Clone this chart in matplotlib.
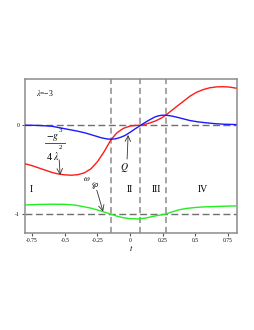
import matplotlib
matplotlib.use("Agg")
import matplotlib.pyplot as plt

plt.rcParams["font.family"] = ["Liberation Serif", "DejaVu Serif"]
plt.rcParams["mathtext.fontset"] = "stix"

# ── data ────────────────────────────────────────────────────────────────────
t_red = [-0.80, -0.75, -0.70, -0.65, -0.60, -0.55, -0.50, -0.45, -0.40, -0.35,
         -0.30, -0.25, -0.20, -0.145, -0.10, -0.05, 0.0, 0.04, 0.082, 0.12,
         0.153, 0.19, 0.217, 0.245, 0.273, 0.31, 0.357, 0.41, 0.459, 0.51,
         0.561, 0.61, 0.663, 0.71, 0.76, 0.81]
red = [-0.435, -0.455, -0.48, -0.505, -0.53, -0.548, -0.558, -0.562, -0.556,
       -0.535, -0.49, -0.41, -0.30, -0.16, -0.085, -0.035, -0.01, -0.003, 0.0,
       0.012, 0.026, 0.045, 0.063, 0.085, 0.112, 0.155, 0.21, 0.27, 0.326,
       0.37, 0.40, 0.42, 0.43, 0.432, 0.428, 0.416]

t_blue = [-0.80, -0.70, -0.60, -0.50, -0.40, -0.344, -0.28, -0.217, -0.17,
          -0.145, -0.11, -0.07, -0.038, 0.0, 0.04, 0.082, 0.12, 0.153, 0.19,
          0.217, 0.245, 0.273, 0.31, 0.357, 0.41, 0.459, 0.52, 0.587, 0.65,
          0.714, 0.81]
blue = [0.0, -0.003, -0.012, -0.04, -0.068, -0.087, -0.115, -0.143, -0.156,
        -0.158, -0.153, -0.135, -0.115, -0.08, -0.04, 0.0, 0.035, 0.063, 0.092,
        0.105, 0.112, 0.112, 0.105, 0.09, 0.07, 0.052, 0.037, 0.026, 0.017,
        0.011, 0.007]

t_green = [-0.80, -0.70, -0.60, -0.50, -0.42, -0.357, -0.30, -0.255, -0.20,
           -0.145, -0.10, -0.05, 0.0, 0.064, 0.12, 0.166, 0.22, 0.268, 0.32,
           0.37, 0.43, 0.497, 0.56, 0.625, 0.72, 0.81]
green = [-0.896, -0.89, -0.888, -0.889, -0.898, -0.915, -0.932, -0.95, -0.975,
         -1.0, -1.022, -1.04, -1.05, -1.053, -1.043, -1.027, -1.012, -1.0,
         -0.975, -0.952, -0.935, -0.925, -0.918, -0.915, -0.91, -0.907]

region_bounds = [-0.145, 0.079, 0.272]
region_names = ["I", "II", "III", "IV"]
region_x = [-0.76, 0.0, 0.199, 0.56]
xticks = [-0.75, -0.5, -0.25, 0, 0.25, 0.5, 0.75]
xticklabels = ["-0.75", "-0.5", "-0.25", "0", "0.25", "0.5", "0.75"]
yticks = [0, -1]
yticklabels = ["0", "-1"]

fig = plt.figure(figsize=(2.55, 3.30), dpi=100)
ax = fig.add_axes([0.098, 0.295, 0.831, 0.466])

gray = "#8c8c8c"
for x in region_bounds:
    ax.axvline(x, color=gray, lw=1.1, dashes=(4, 2.5), zorder=1)
for y in yticks:
    ax.axhline(y, color="#707070", lw=1.0, dashes=(5, 2.5), zorder=1)

ax.plot(t_red, red, color="#ff1a1a", lw=1.0, zorder=3)
ax.plot(t_blue, blue, color="#1a1aff", lw=1.0, zorder=3)
ax.plot(t_green, green, color="#22ee22", lw=1.0, zorder=3)

ax.set_xlim(-0.805, 0.818)
ax.set_ylim(-1.207, 0.52)
ax.set_xticks(xticks)
ax.set_xticklabels(xticklabels)
ax.set_yticks(yticks)
ax.set_yticklabels(yticklabels)
ax.tick_params(labelsize=4, length=2, width=0.8, color="#555555", pad=2)
for s in ax.spines.values():
    s.set_color(gray)
    s.set_linewidth(1.1)
ax.set_xlabel("$t$", fontsize=6, labelpad=0)

ax.text(-0.72, 0.36, r"$\lambda$=−3", fontsize=5.5, ha="left", va="center")
for name, x in zip(region_names, region_x):
    ax.text(x, -0.72, name, fontsize=7, ha="center", va="center")

# -g^3 / (4 lambda^2), laid out like the reference
ax.text(-0.536, -0.064, "3", fontsize=5, ha="center", va="center")
ax.text(-0.59, -0.143, r"$-g$", fontsize=7, ha="center", va="center")
ax.plot([-0.65, -0.497], [-0.205, -0.205], color="#333333", lw=0.6)
ax.text(-0.536, -0.255, "2", fontsize=5, ha="center", va="center")
ax.text(-0.59, -0.345, r"4 $\lambda$", fontsize=7, ha="center", va="center")
ax.annotate("", xy=(-0.536, -0.56), xytext=(-0.543, -0.39),
            arrowprops=dict(arrowstyle="->", lw=0.6, color="#333333",
                            shrinkA=0, shrinkB=0))

ax.text(-0.04, -0.47, "$Q$", fontsize=7, ha="center", va="center")
ax.annotate("", xy=(-0.015, -0.11), xytext=(-0.023, -0.38),
            arrowprops=dict(arrowstyle="->", lw=0.6, color="#333333",
                            shrinkA=0, shrinkB=0))

ax.text(-0.335, -0.60, r"$\omega$", fontsize=6, ha="center", va="center")
ax.text(-0.268, -0.675, r"$\wp$", fontsize=5.5, ha="center", va="center")
ax.annotate("", xy=(-0.207, -0.97), xytext=(-0.255, -0.73),
            arrowprops=dict(arrowstyle="->", lw=0.6, color="#333333",
                            shrinkA=0, shrinkB=0))

fig.savefig("out.png", dpi=100)
